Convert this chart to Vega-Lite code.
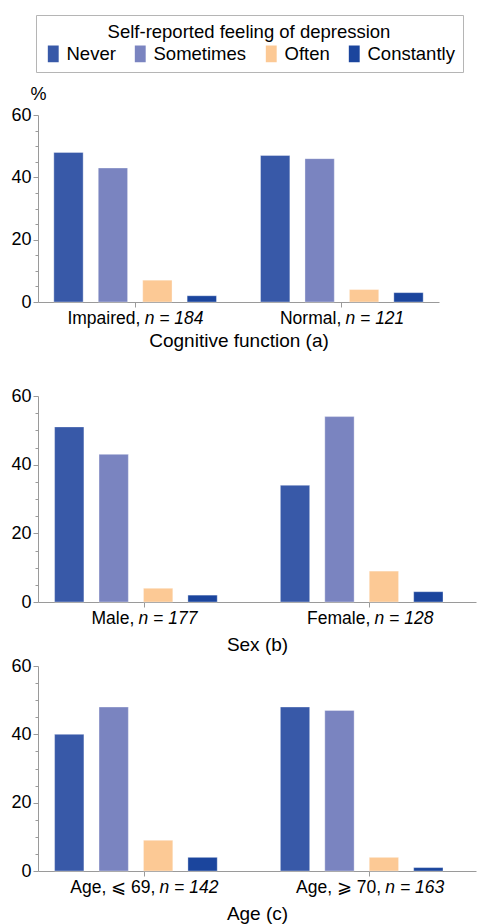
{
  "$schema": "https://vega.github.io/schema/vega-lite/v6.json",
  "padding": {"top": 14, "left": 10, "right": 1, "bottom": 0},
  "data": {"values": [
    {"panel": "a", "group": "Impaired, n = 184", "feeling": "Never", "pct": 48},
    {"panel": "a", "group": "Impaired, n = 184", "feeling": "Sometimes", "pct": 43},
    {"panel": "a", "group": "Impaired, n = 184", "feeling": "Often", "pct": 7},
    {"panel": "a", "group": "Impaired, n = 184", "feeling": "Constantly", "pct": 2},
    {"panel": "a", "group": "Normal, n = 121", "feeling": "Never", "pct": 47},
    {"panel": "a", "group": "Normal, n = 121", "feeling": "Sometimes", "pct": 46},
    {"panel": "a", "group": "Normal, n = 121", "feeling": "Often", "pct": 4},
    {"panel": "a", "group": "Normal, n = 121", "feeling": "Constantly", "pct": 3},
    {"panel": "b", "group": "Male, n = 177", "feeling": "Never", "pct": 51},
    {"panel": "b", "group": "Male, n = 177", "feeling": "Sometimes", "pct": 43},
    {"panel": "b", "group": "Male, n = 177", "feeling": "Often", "pct": 4},
    {"panel": "b", "group": "Male, n = 177", "feeling": "Constantly", "pct": 2},
    {"panel": "b", "group": "Female, n = 128", "feeling": "Never", "pct": 34},
    {"panel": "b", "group": "Female, n = 128", "feeling": "Sometimes", "pct": 54},
    {"panel": "b", "group": "Female, n = 128", "feeling": "Often", "pct": 9},
    {"panel": "b", "group": "Female, n = 128", "feeling": "Constantly", "pct": 3},
    {"panel": "c", "group": "Age, ⩽ 69, n = 142", "feeling": "Never", "pct": 40},
    {"panel": "c", "group": "Age, ⩽ 69, n = 142", "feeling": "Sometimes", "pct": 48},
    {"panel": "c", "group": "Age, ⩽ 69, n = 142", "feeling": "Often", "pct": 9},
    {"panel": "c", "group": "Age, ⩽ 69, n = 142", "feeling": "Constantly", "pct": 4},
    {"panel": "c", "group": "Age, ⩾ 70, n = 163", "feeling": "Never", "pct": 48},
    {"panel": "c", "group": "Age, ⩾ 70, n = 163", "feeling": "Sometimes", "pct": 47},
    {"panel": "c", "group": "Age, ⩾ 70, n = 163", "feeling": "Often", "pct": 4},
    {"panel": "c", "group": "Age, ⩾ 70, n = 163", "feeling": "Constantly", "pct": 1}
  ]},
  "config": {
    "font": "Liberation Sans",
    "view": {"stroke": null},
    "axis": {"grid": false, "domainColor": "#9a9a9a", "tickColor": "#9a9a9a", "labelColor": "#000", "titleColor": "#000", "labelFontSize": 18, "titleFontSize": 19, "titleFontWeight": "normal"},
    "axisX": {"labelAngle": 0, "tickSize": 5, "labelPadding": 2, "titlePadding": 5, "labelFontSize": 17.5},
    "axisY": {"labelPadding": 2, "labelOverlap": false},
    "legend": {
      "orient": "none", "legendX": -2, "legendY": -100,
      "direction": "horizontal",
      "strokeColor": "#b5b5b5", "padding": 8,
      "titleFontSize": 18.5, "titleFontWeight": "normal", "titleColor": "#000", "titleAnchor": "middle", "titlePadding": 3, "titleLimit": 500,
      "labelFontSize": 18.5, "labelColor": "#000", "labelOffset": 4, "columnPadding": 15,
      "symbolType": "M-0.65,-1H0.65V1H-0.65Z", "symbolSize": 280, "symbolStrokeWidth": 0, "symbolOpacity": 1
    }
  },
  "spacing": 36,
  "vconcat": [
    {
      "width": 401, "height": 187,
      "transform": [{"filter": "datum.panel === 'a'"}],
      "layer": [
        {
          "mark": {"type": "bar", "stroke": "#ffffff", "strokeOpacity": 0.35, "strokeWidth": 1},
          "encoding": {
            "x": {"field": "group", "type": "nominal", "sort": null, "scale": {"paddingInner": 0.14, "paddingOuter": 0.04},
              "axis": {"title": "Cognitive function (a)", "labelExpr": "trim(slice(datum.label, 0, indexof(datum.label, 'n =')))", "labelAlign": "right",
                "labelOffset": {"condition": {"test": "indexof(datum.value, 'Impaired') === 0", "value": 5.2}, "value": -0.6}}},
            "xOffset": {"field": "feeling", "type": "nominal", "sort": ["Never", "Sometimes", "Often", "Constantly"], "scale": {"paddingInner": 0.34, "paddingOuter": 0.17}},
            "y": {"field": "pct", "type": "quantitative", "scale": {"domain": [0, 60]},
              "axis": {"values": [0, 5, 10, 15, 20, 25, 30, 35, 40, 45, 50, 55, 60], "labelExpr": "datum.value % 20 === 0 ? datum.label : ''",
                "tickSize": {"condition": {"test": "datum.value % 20 === 0", "value": 5}, "value": 3},
                "title": "%", "titleAngle": 0, "titleX": 0, "titleY": -12, "titleAlign": "center", "titleBaseline": "bottom", "titleFontSize": 18}},
            "color": {"field": "feeling", "type": "nominal", "sort": ["Never", "Sometimes", "Often", "Constantly"],
              "scale": {"domain": ["Never", "Sometimes", "Often", "Constantly"], "range": ["#3859a8", "#7a84c0", "#fcc995", "#1b459d"]},
              "legend": {"title": "Self-reported feeling of depression"}}
          }
        },
        {
          "mark": {"type": "bar", "opacity": 0},
          "encoding": {
            "x": {"field": "group", "type": "nominal", "sort": null,
              "axis": {"orient": "bottom", "title": null, "domain": false, "ticks": false, "labelPadding": 7, "labelFontStyle": "italic",
                "labelExpr": "slice(datum.label, indexof(datum.label, 'n ='))", "labelAlign": "left",
                "labelOffset": {"condition": {"test": "indexof(datum.value, 'Impaired') === 0", "value": 9.5}, "value": 3.6}}},
            "xOffset": {"field": "feeling", "type": "nominal", "sort": ["Never", "Sometimes", "Often", "Constantly"]}
          }
        }
      ],
      "resolve": {"axis": {"x": "independent"}}
    },
    {
      "spacing": 2,
      "vconcat": [
        {
          "width": 438, "height": 206,
          "transform": [{"filter": "datum.panel === 'b'"}],
          "layer": [
            {
              "mark": {"type": "bar", "stroke": "#ffffff", "strokeOpacity": 0.35, "strokeWidth": 1},
              "encoding": {
                "x": {"field": "group", "type": "nominal", "sort": null, "scale": {"paddingInner": 0.14, "paddingOuter": 0.04},
                  "axis": {"title": "Sex (b)", "titlePadding": 9, "labelExpr": "trim(slice(datum.label, 0, indexof(datum.label, 'n =')))", "labelAlign": "right",
                    "labelOffset": {"condition": {"test": "indexof(datum.value, 'Male') === 0", "value": -9.8}, "value": 0.4}}},
                "xOffset": {"field": "feeling", "type": "nominal", "sort": ["Never", "Sometimes", "Often", "Constantly"], "scale": {"paddingInner": 0.34, "paddingOuter": 0.17}},
                "y": {"field": "pct", "type": "quantitative", "scale": {"domain": [0, 60]},
                  "axis": {"values": [0, 5, 10, 15, 20, 25, 30, 35, 40, 45, 50, 55, 60], "labelExpr": "datum.value % 20 === 0 ? datum.label : ''",
                    "tickSize": {"condition": {"test": "datum.value % 20 === 0", "value": 5}, "value": 3}, "title": null}},
                "color": {"field": "feeling", "type": "nominal", "sort": ["Never", "Sometimes", "Often", "Constantly"], "legend": {"title": "Self-reported feeling of depression"}}
              }
            },
            {
              "mark": {"type": "bar", "opacity": 0},
              "encoding": {
                "x": {"field": "group", "type": "nominal", "sort": null,
                  "axis": {"orient": "bottom", "title": null, "domain": false, "ticks": false, "labelPadding": 7, "labelFontStyle": "italic",
                    "labelExpr": "slice(datum.label, indexof(datum.label, 'n ='))", "labelAlign": "left",
                    "labelOffset": {"condition": {"test": "indexof(datum.value, 'Male') === 0", "value": -5.6}, "value": 4.6}}},
                "xOffset": {"field": "feeling", "type": "nominal", "sort": ["Never", "Sometimes", "Often", "Constantly"]}
              }
            }
          ],
          "resolve": {"axis": {"x": "independent"}}
        },
        {
          "width": 438, "height": 205,
          "transform": [{"filter": "datum.panel === 'c'"}],
          "layer": [
            {
              "mark": {"type": "bar", "stroke": "#ffffff", "strokeOpacity": 0.35, "strokeWidth": 1},
              "encoding": {
                "x": {"field": "group", "type": "nominal", "sort": null, "scale": {"paddingInner": 0.14, "paddingOuter": 0.04},
                  "axis": {"title": "Age (c)", "titlePadding": 9, "labelExpr": "trim(slice(datum.label, 0, indexof(datum.label, 'n =')))", "labelAlign": "right", "labelOffset": 11.2}},
                "xOffset": {"field": "feeling", "type": "nominal", "sort": ["Never", "Sometimes", "Often", "Constantly"], "scale": {"paddingInner": 0.34, "paddingOuter": 0.17}},
                "y": {"field": "pct", "type": "quantitative", "scale": {"domain": [0, 60]},
                  "axis": {"values": [0, 5, 10, 15, 20, 25, 30, 35, 40, 45, 50, 55, 60], "labelExpr": "datum.value % 20 === 0 ? datum.label : ''",
                    "tickSize": {"condition": {"test": "datum.value % 20 === 0", "value": 5}, "value": 3}, "title": null}},
                "color": {"field": "feeling", "type": "nominal", "sort": ["Never", "Sometimes", "Often", "Constantly"], "legend": {"title": "Self-reported feeling of depression"}}
              }
            },
            {
              "mark": {"type": "bar", "opacity": 0},
              "encoding": {
                "x": {"field": "group", "type": "nominal", "sort": null,
                  "axis": {"orient": "bottom", "title": null, "domain": false, "ticks": false, "labelPadding": 7, "labelFontStyle": "italic",
                    "labelExpr": "slice(datum.label, indexof(datum.label, 'n ='))", "labelAlign": "left", "labelOffset": 15.4}},
                "xOffset": {"field": "feeling", "type": "nominal", "sort": ["Never", "Sometimes", "Often", "Constantly"]}
              }
            }
          ],
          "resolve": {"axis": {"x": "independent"}}
        }
      ]
    }
  ]
}
